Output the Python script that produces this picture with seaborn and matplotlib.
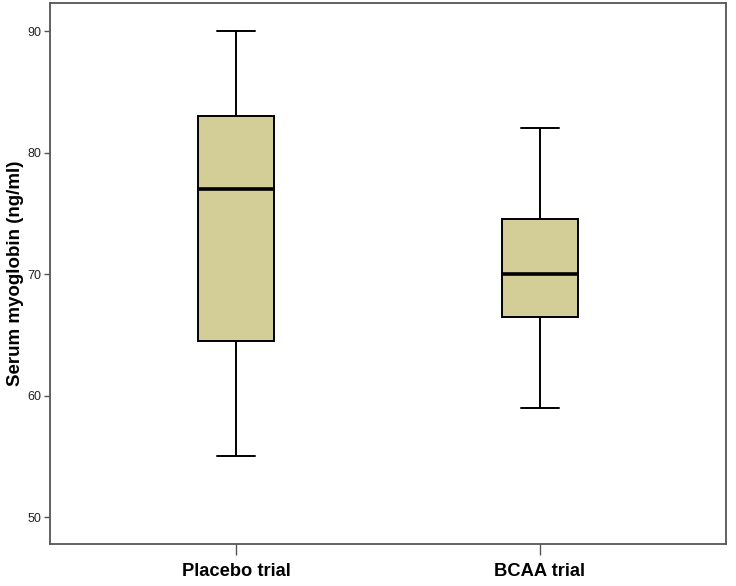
import matplotlib
matplotlib.use("Agg")
import matplotlib.pyplot as plt
import pandas as pd
import seaborn as sns

# Five-number summaries (min, Q1, median, Q3, max)
placebo_summary = [55, 64.5, 77, 83, 90]
bcaa_summary = [59, 66.5, 70, 74.5, 82]
trials = ["Placebo trial", "BCAA trial"]
y_ticks = [50, 60, 70, 80, 90]

df = pd.DataFrame({
    "trial": [trials[0]] * len(placebo_summary) + [trials[1]] * len(bcaa_summary),
    "myoglobin": placebo_summary + bcaa_summary,
})

sns.set_style("white")
plt.rcParams["font.family"] = ["Liberation Sans", "DejaVu Sans"]

fig = plt.figure(figsize=(7.36, 5.86), dpi=100)
ax = fig.add_axes([0.068, 0.0717, 0.918, 0.923])

sns.boxplot(
    data=df, x="trial", y="myoglobin", order=trials,
    color="#D3CE97", saturation=1, width=0.25, whis=1.5,
    linecolor="black", linewidth=1.4, showfliers=False,
    medianprops={"linewidth": 2.6, "color": "black"},
    ax=ax,
)

ax.set_xlim(-0.612, 1.612)
ax.set_ylim(47.78, 92.3)
ax.set_yticks(y_ticks)
ax.set_yticklabels([str(v) for v in y_ticks], fontsize=9, color="#222222")
ax.set_xticks(range(len(trials)))
ax.set_xticklabels(trials, fontsize=13.2, fontweight="bold", color="black")
ax.set_xlabel("")
ax.set_ylabel("Serum myoglobin (ng/ml)", fontsize=13.5, fontweight="bold",
              color="black", labelpad=2)

for spine in ax.spines.values():
    spine.set_visible(True)
    spine.set_color("#555555")
    spine.set_linewidth(1.3)

ax.tick_params(axis="y", left=True, length=4.5, width=1, color="#555555", pad=2)
ax.tick_params(axis="x", bottom=True, length=8, width=1, color="#555555", pad=6)

fig.savefig("out.png", dpi=100)
